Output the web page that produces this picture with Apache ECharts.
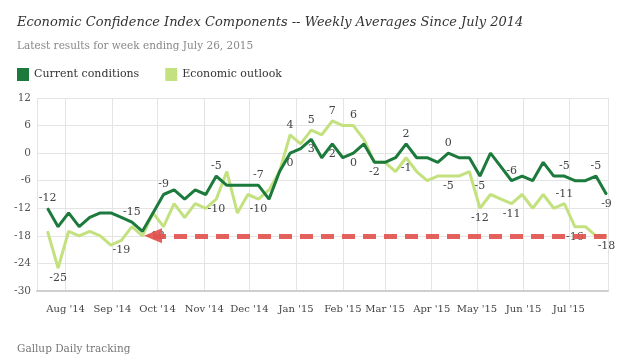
<!DOCTYPE html>
<html>
<head>
<meta charset="utf-8">
<script src="https://cdn.jsdelivr.net/npm/echarts@6/dist/echarts.min.js"></script>
<style>
html,body{margin:0;padding:0;background:#fff;}
#chart{width:642px;height:362px;}
</style>
</head>
<body>
<div id="chart"></div>
<script>
// ---- data ----
const weeks = [
 '2014-07-20','2014-07-27','2014-08-03','2014-08-10','2014-08-17','2014-08-24','2014-08-31',
 '2014-09-07','2014-09-14','2014-09-21','2014-09-28','2014-10-05','2014-10-12','2014-10-19',
 '2014-10-26','2014-11-02','2014-11-09','2014-11-16','2014-11-23','2014-11-30','2014-12-07',
 '2014-12-14','2014-12-21','2014-12-28','2015-01-04','2015-01-11','2015-01-18','2015-01-25',
 '2015-02-01','2015-02-08','2015-02-15','2015-02-22','2015-03-01','2015-03-08','2015-03-15',
 '2015-03-22','2015-03-29','2015-04-05','2015-04-12','2015-04-19','2015-04-26','2015-05-03',
 '2015-05-10','2015-05-17','2015-05-24','2015-05-31','2015-06-07','2015-06-14','2015-06-21',
 '2015-06-28','2015-07-05','2015-07-12','2015-07-19','2015-07-26'
];
const currentConditions = [
 -12,-16,-13,-16,-14,-13,-13,-14,-15,-17,
 -13,-9,-8,-10,-8,-9,-5,-7,-7,-7,
 -7,-10,-4,0,1,3,-1,2,-1,0,
 2,-2,-2,-1,2,-1,-1,-2,0,-1,
 -1,-5,0,-3,-6,-5,-6,-2,-5,-5,
 -6,-6,-5,-9
];
const economicOutlook = [
 -17,-25,-17,-18,-17,-18,-20,-19,-16,-18,
 -13,-16,-11,-14,-11,-12,-10,-4,-13,-9,
 -10,-8,-4,4,2,5,4,7,6,6,
 3,-2,-2,-4,-1,-4,-6,-5,-5,-5,
 -4,-12,-9,-10,-11,-9,-12,-9,-12,-11,
 -16,-16,-18,-18
];
const yTicks = {min:-30, max:12, step:6};
const monthNames = ['Jan','Feb','Mar','Apr','May','Jun','Jul','Aug','Sep','Oct','Nov','Dec'];
const arrowFrom = '2014-09-28';
const arrowTo = '2015-07-26';
const arrowLevel = -18;

// ---- chart ----
const darkLabelPos = {0:'top',8:'top',11:'top',16:'top',20:'top',23:'bottom',25:'bottom',27:'bottom',29:'bottom',31:'bottom',34:'top',38:'top',41:'bottom',44:'top',49:'top',52:'top',53:'bottom'};
const lightLabelPos = {1:'bottom',7:'bottom',9:'right',16:'bottom',20:'bottom',23:'top',25:'top',27:'top',29:'top',34:'bottom',38:'bottom',41:'bottom',44:'bottom',49:'top',50:'bottom',53:'bottom'};

function localTs(s){ const p=s.split('-').map(Number); return new Date(p[0],p[1]-1,p[2]).getTime(); }
function build(vals, posMap){
  return vals.map((v,i)=>{
    const item = {value:[localTs(weeks[i]), v]};
    if (posMap[i]) item.label = {show:true, position:posMap[i]};
    return item;
  });
}
const serif = 'DejaVu Serif';
const labelStyle = {show:false, fontFamily:serif, fontSize:11, color:'#444', distance:4};
const DARK = '#1b7a3c', LIGHT = '#c3e27f', RED = '#e25450';

const chart = echarts.init(document.getElementById('chart'), null, {renderer:'canvas'});
chart.setOption({
  animation:false,
  backgroundColor:'#fff',
  title:[
    {text:'Economic Confidence Index Components -- Weekly Averages Since July 2014',
     subtext:'Latest results for week ending July 26, 2015',
     left:12, top:11, itemGap:12,
     textStyle:{fontFamily:serif, fontStyle:'italic', fontWeight:'normal', fontSize:13, color:'#333'},
     subtextStyle:{fontFamily:serif, fontSize:10.5, color:'#888'}},
    {text:'Gallup Daily tracking', left:12, top:339,
     textStyle:{fontFamily:serif, fontWeight:'normal', fontSize:10.5, color:'#777'}}
  ],
  legend:{
    data:['Current conditions','Economic outlook'],
    left:12, top:63, icon:'rect', itemWidth:12, itemHeight:13, itemGap:26,
    textStyle:{fontFamily:serif, fontSize:11, color:'#333'}
  },
  grid:{left:37, right:34, top:98, bottom:71},
  xAxis:{
    type:'time', min:localTs('2014-07-13'), max:localTs('2015-07-27'),
    splitNumber:12, minInterval:28*864e5, maxInterval:31*864e5,
    axisLine:{onZero:false, lineStyle:{color:'#cfcfcf', width:2}},
    axisTick:{show:false},
    splitLine:{show:true, lineStyle:{color:'#e4e4e4', width:1}},
    axisLabel:{fontFamily:serif, fontSize:10, color:'#444', margin:13,
      formatter:function(val){ const d=new Date(val); return monthNames[d.getMonth()]+" '"+String(d.getFullYear()).slice(2); }}
  },
  yAxis:{
    type:'value', min:yTicks.min, max:yTicks.max, interval:yTicks.step,
    axisLine:{show:false}, axisTick:{show:false},
    splitLine:{lineStyle:{color:'#e4e4e4', width:1}},
    axisLabel:{fontFamily:serif, fontSize:10.5, color:'#555', margin:6}
  },
  series:[
    {name:'Economic outlook', type:'line', data:build(economicOutlook, lightLabelPos),
     symbol:'circle', symbolSize:1, showAllSymbol:true, color:LIGHT,
     lineStyle:{color:LIGHT, width:3}, itemStyle:{color:LIGHT}, label:labelStyle,
     emphasis:{disabled:true}, z:2},
    {name:'Current conditions', type:'line', data:build(currentConditions, darkLabelPos),
     symbol:'circle', symbolSize:1, showAllSymbol:true, color:DARK,
     lineStyle:{color:DARK, width:3}, itemStyle:{color:DARK}, label:labelStyle,
     emphasis:{disabled:true}, z:3,
     markLine:{silent:true, symbol:['triangle','none'], symbolSize:[15,18], symbolRotate:[90,0],
       label:{show:false}, emphasis:{disabled:true},
       lineStyle:{color:RED, width:5, type:[13,8], opacity:0.92},
       itemStyle:{color:RED},
       data:[[{coord:[localTs(arrowFrom), arrowLevel]},{coord:[localTs(arrowTo), arrowLevel]}]]}
    }
  ]
});
</script>
</body>
</html>
